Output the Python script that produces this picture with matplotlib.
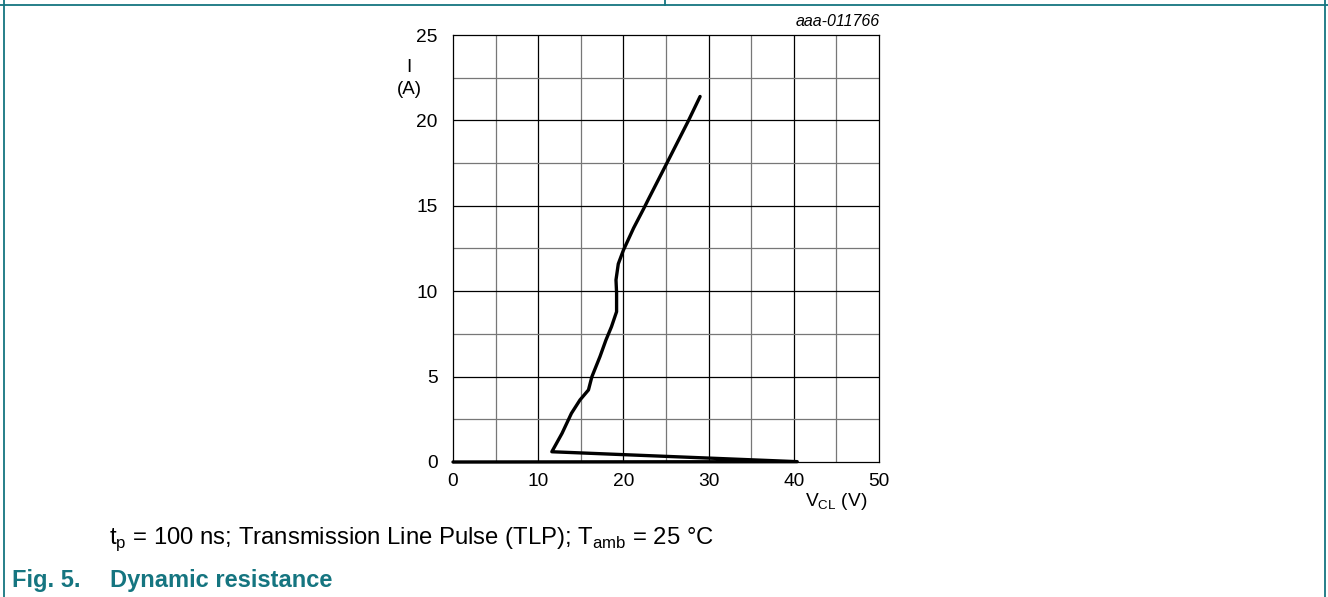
import numpy as np
import matplotlib.pyplot as plt
from matplotlib.lines import Line2D

plt.rcParams['font.family'] = ['Liberation Sans', 'DejaVu Sans']

# TLP curve
vcl = [0.0, 40.4, 11.6, 12.8, 13.9, 14.9, 15.9, 16.3, 17.25, 17.95, 18.6, 19.2,
       19.2, 19.13, 19.4, 20.0, 21.2, 22.4, 22.9, 25.0, 27.6, 29.0]
cur = [0.0, 0.02, 0.60, 1.68, 2.85, 3.63, 4.22, 4.99, 6.17, 7.14, 7.92, 8.8,
       9.9, 10.66, 11.6, 12.4, 13.7, 14.85, 15.35, 17.4, 19.95, 21.4]

x_ticks = [0, 10, 20, 30, 40, 50]
y_ticks = [0, 5, 10, 15, 20, 25]

W, H = 1328, 597
teal = '#157580'

fig = plt.figure(figsize=(W / 100, H / 100), dpi=100)
ax = fig.add_axes([453 / W, (H - 462) / H, (879 - 453) / W, (462 - 35) / H])

# grid: minor grey, major black
for xv in np.arange(5, 50, 5):
    c = 'black' if xv % 10 == 0 else '#777777'
    ax.axvline(xv, color=c, lw=0.9, zorder=1)
for yv in np.arange(2.5, 25, 2.5):
    c = 'black' if yv % 5 == 0 else '#777777'
    ax.axhline(yv, color=c, lw=0.9, zorder=1)

ax.plot(vcl, cur, color='black', lw=2.4, solid_joinstyle='round',
        solid_capstyle='round', zorder=3, clip_on=False)

ax.set_xlim(0, 50)
ax.set_ylim(0, 25)
ax.set_xticks(x_ticks)
ax.set_yticks(y_ticks)
ax.tick_params(length=0, labelsize=13.8, pad=8)
ax.tick_params(axis='y', pad=11)
for s in ax.spines.values():
    s.set_linewidth(0.9)

def px(x, y):
    return x / W, 1 - y / H

fig.text(*px(409, 67), 'I', ha='center', va='center', fontsize=13.5)
fig.text(*px(409, 90), '(A)', ha='center', va='center', fontsize=13.5)
fig.text(*px(836, 501), r'V$_{\mathregular{CL}}$ (V)', ha='center', va='center', fontsize=13.8)
fig.text(*px(880, 22), 'aaa-011766', ha='right', va='center', fontsize=11.5, style='italic')

fig.text(*px(109, 539), r't$_{\mathregular{p}}$ = 100 ns; Transmission Line Pulse (TLP); '
         r'T$_{\mathregular{amb}}$ = 25 °C', ha='left', va='center', fontsize=17.2)
fig.text(*px(12, 580), 'Fig. 5.', ha='left', va='center', fontsize=17,
         fontweight='bold', color=teal)
fig.text(*px(110, 580), 'Dynamic resistance', ha='left', va='center', fontsize=17,
         fontweight='bold', color=teal)

# table frame around the figure
frame = [((0, W), (5, 5)), ((4, 4), (0, H)), ((1325, 1325), (0, H)), ((665, 665), (0, 5))]
for xs, ys in frame:
    fig.add_artist(Line2D([x / W for x in xs], [1 - y / H for y in ys],
                          color=teal, lw=1.3, transform=fig.transFigure))

fig.savefig('out.png', dpi=100)
